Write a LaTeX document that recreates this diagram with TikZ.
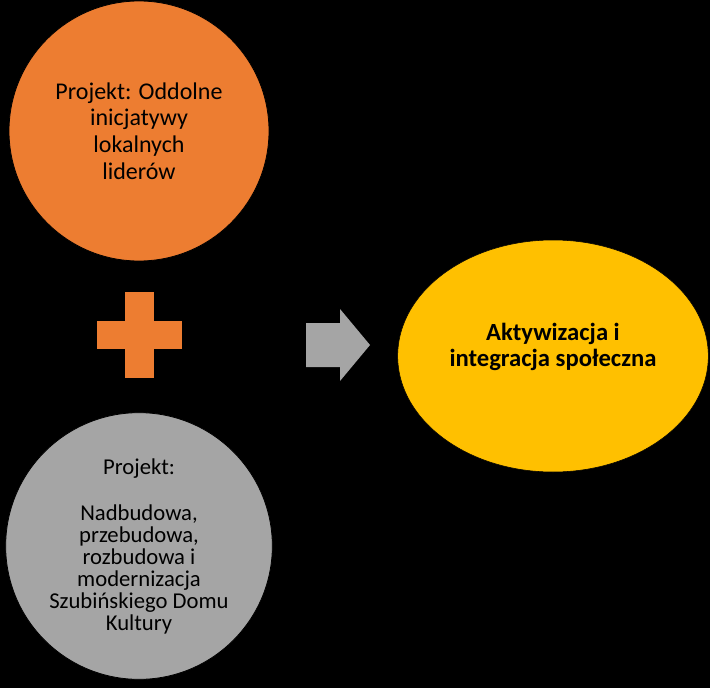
\documentclass[tikz,border=0pt]{standalone}
\usepackage{fontspec}
\setmainfont{Carlito}
\usetikzlibrary{shapes.geometric,positioning}
\definecolor{orng}{HTML}{ED7D31}
\definecolor{gry}{HTML}{A5A5A5}
\definecolor{ylw}{HTML}{FFC000}
\begin{document}
\begin{tikzpicture}[
    x=0.75pt, y=-0.75pt,
    every node/.style={align=center, font=\fontsize{18}{20}\selectfont, text=black},
    ball/.style={circle, draw=black, line width=0.6pt, inner sep=0pt}
    ]

\fill[black] (0,0) rectangle (710,688);
\useasboundingbox (0,0) rectangle (710,688);

% Circles
\node (liders) [ball, fill=orng, minimum size=195pt] at (139,131) {Projekt: Oddolne\\inicjatywy\\lokalnych\\liderów};
\node (culture) [ball, fill=gry, minimum size=200pt, font=\fontsize{17}{16.5}\selectfont] at (139,546)
    {Projekt:\\[18pt]Nadbudowa,\\przebudowa,\\rozbudowa i\\modernizacja\\Szubińskiego Domu\\Kultury};

% Plus sign
\node (plus) at (139,335) {};
\fill[orng] (97,321) rectangle (182,349);
\fill[orng] (125,292) rectangle (154,378);

% Arrow and result
\coordinate (arrow) at (306,345);
\fill[gry] (arrow) ++(0,-22) -- ++(34,0) -- ++(0,-14) -- ++(30,36) -- ++(-30,36) -- ++(0,-14) -- ++(-34,0) -- cycle;
\node (result) [ellipse, draw=black, fill=ylw, minimum width=233pt, minimum height=174pt,
    font=\fontsize{18.5}{20}\selectfont\bfseries] at (553,356) {};
\node (resulttext) [font=\fontsize{18.5}{20}\selectfont\bfseries] at (553,347) {Aktywizacja i\\integracja społeczna};

\end{tikzpicture}
\end{document}
